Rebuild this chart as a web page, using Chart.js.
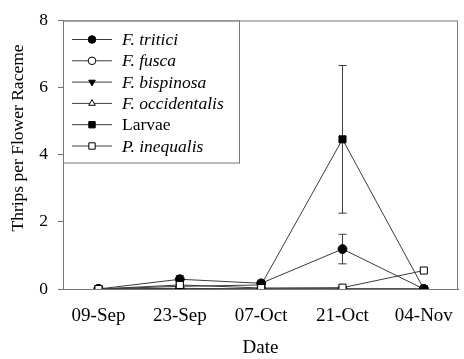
<!DOCTYPE html>
<html>
<head>
<meta charset="utf-8">
<script src="https://cdn.jsdelivr.net/npm/chart.js@4.4.1/dist/chart.umd.min.js"></script>
<style>
  body { margin: 0; background: #fff; }
  canvas { display: block; }
</style>
</head>
<body>
<canvas id="grafico" width="464" height="359"></canvas>
<script>
// sampling dates (x axis)
const DATE = ["09-Sep", "23-Sep", "07-Oct", "21-Oct", "04-Nov"];

// mean thrips per flower raceme
const F_TRITICI      = [0, 0.29, 0.17, 1.19, 0];
const F_FUSCA        = [0, 0, 0, 0, 0];
const F_BISPINOSA    = [0, 0.02, 0, 0, 0];
const F_OCCIDENTALIS = [0, 0, 0, 0, 0];
const LARVAE         = [0, 0.08, 0.12, 4.46, 0];
const P_INEQUALIS    = [0, 0.12, 0.03, 0.04, 0.55];

// standard errors (only where bars show)
const ERR_TRITICI = [0, 0.11, 0.03, 0.44, 0];
const ERR_LARVAE  = [0, 0.05, 0.04, 2.2, 0];

const Y_TICKS = [0, 2, 4, 6, 8];
const Y_TITOLO = "Thrips per Flower Raceme";

const SERIF = "'Liberation Serif', 'Times New Roman', serif";
const LINE = "#3c3c3c";

function punti(arr) {
  return arr.map((v, i) => ({ x: i, y: v }));
}

function serie(label, valori, stile, pieno, extra) {
  return Object.assign({
    label: label,
    data: punti(valori),
    borderColor: LINE,
    borderWidth: 1,
    pointStyle: stile,
    pointRadius: stile === "rect" ? 5 : 4.4,
    pointBackgroundColor: pieno ? "#000" : "#fff",
    pointBorderColor: "#000",
    pointBorderWidth: 1,
    italic: true,
    tension: 0
  }, extra || {});
}

// error bars drawn under the markers
const barreErrore = {
  id: "barreErrore",
  beforeDatasetsDraw(chart) {
    const ctx = chart.ctx;
    const xs = chart.scales.x, ys = chart.scales.y;
    ctx.save();
    ctx.strokeStyle = LINE;
    ctx.lineWidth = 1;
    chart.data.datasets.forEach(ds => {
      if (!ds.err) return;
      ds.data.forEach((p, i) => {
        const e = ds.err[i];
        if (!e) return;
        const x = xs.getPixelForValue(p.x);
        const y1 = ys.getPixelForValue(p.y + e);
        const y2 = ys.getPixelForValue(Math.max(p.y - e, 0));
        ctx.beginPath();
        ctx.moveTo(x, y1); ctx.lineTo(x, y2);
        ctx.moveTo(x - 4, y1); ctx.lineTo(x + 4, y1);
        if (p.y - e > 0) { ctx.moveTo(x - 4, y2); ctx.lineTo(x + 4, y2); }
        ctx.stroke();
      });
    });
    ctx.restore();
  }
};

// box around the plot, y title and legend in the upper left corner
const cornice = {
  id: "cornice",
  afterDraw(chart) {
    const ctx = chart.ctx;
    const a = chart.chartArea;
    ctx.save();
    ctx.strokeStyle = "#777";
    ctx.lineWidth = 1;
    ctx.strokeRect(a.left + 0.5, a.top + 0.5, a.right - a.left - 1, a.bottom - a.top);

    // y axis title, set a little above the middle of the axis
    ctx.save();
    ctx.translate(18, 138);
    ctx.rotate(-Math.PI / 2);
    ctx.fillStyle = "#000";
    ctx.font = "17.5px " + SERIF;
    ctx.textAlign = "center";
    ctx.textBaseline = "middle";
    ctx.fillText(Y_TITOLO, 0, 0);
    ctx.restore();

    // legend
    const lx = a.left, ly = a.top, lw = 176, lh = 142;
    ctx.fillStyle = "#fff";
    ctx.fillRect(lx + 1, ly + 1, lw - 1, lh - 1);
    ctx.strokeRect(lx + 0.5, ly + 0.5, lw, lh);
    const passo = 21.3;
    chart.data.datasets.slice().sort((p, q) => p.pos - q.pos).forEach((ds, k) => {
      const y = ly + 19 + k * passo;
      ctx.strokeStyle = LINE;
      ctx.beginPath();
      ctx.moveTo(lx + 9, y); ctx.lineTo(lx + 49, y);
      ctx.stroke();
      ctx.fillStyle = ds.pointBackgroundColor;
      ctx.strokeStyle = "#000";
      ctx.lineWidth = 1;
      Chart.helpers.drawPoint(ctx, {
        pointStyle: ds.pointStyle,
        rotation: ds.pointRotation || 0,
        radius: ds.pointStyle === "rect" ? 4.5 : 3.8,
        borderWidth: 1
      }, lx + 29, y);
      ctx.fillStyle = "#000";
      ctx.font = (ds.italic ? "italic " : "") + "17.5px " + SERIF;
      ctx.textBaseline = "middle";
      ctx.textAlign = "left";
      ctx.fillText(ds.label, lx + 59, y + 1);
    });
    ctx.restore();
  }
};

new Chart("grafico", {
  type: "line",
  data: {
    datasets: [
      serie("P. inequalis", P_INEQUALIS, "rect", false, { order: 0, pos: 5 }),
      serie("F. tritici", F_TRITICI, "circle", true, { order: 1, pos: 0, err: ERR_TRITICI }),
      serie("Larvae", LARVAE, "rect", true, { order: 2, pos: 4, err: ERR_LARVAE, italic: false }),
      serie("F. fusca", F_FUSCA, "circle", false, { order: 3, pos: 1 }),
      serie("F. bispinosa", F_BISPINOSA, "triangle", true, { order: 3, pos: 2, pointRotation: 180 }),
      serie("F. occidentalis", F_OCCIDENTALIS, "triangle", false, { order: 3, pos: 3 })
    ]
  },
  options: {
    responsive: false,
    animation: false,
    devicePixelRatio: 1,
    layout: { padding: { top: 13, right: 5, left: 0, bottom: 0 } },
    plugins: {
      legend: { display: false },
      tooltip: { enabled: false }
    },
    scales: {
      x: {
        type: "linear",
        min: -0.436,
        max: 4.42,
        afterFit(s) { s.height = 70; },
        afterBuildTicks(s) { s.ticks = DATE.map((d, i) => ({ value: i })); },
        grid: { display: false },
        border: { display: true, color: "#777" },
        ticks: {
          padding: 8,
          color: "#000",
          font: { family: SERIF, size: 19 },
          callback: v => DATE[v]
        },
        title: {
          display: true,
          text: "Date",
          color: "#000",
          font: { family: SERIF, size: 19, lineHeight: 1 },
          padding: { top: 0, bottom: 1.5 }
        }
      },
      y: {
        min: 0,
        max: 8,
        afterFit(s) { s.width = 63; },
        afterBuildTicks(s) { s.ticks = Y_TICKS.map(v => ({ value: v })); },
        grid: { drawOnChartArea: false, drawTicks: true, tickLength: 5, color: "#777" },
        border: { display: true, color: "#777" },
        ticks: {
          padding: 10,
          color: "#000",
          font: { family: SERIF, size: 17.5 }
        }
      }
    }
  },
  plugins: [barreErrore, cornice]
});
</script>
</body>
</html>
